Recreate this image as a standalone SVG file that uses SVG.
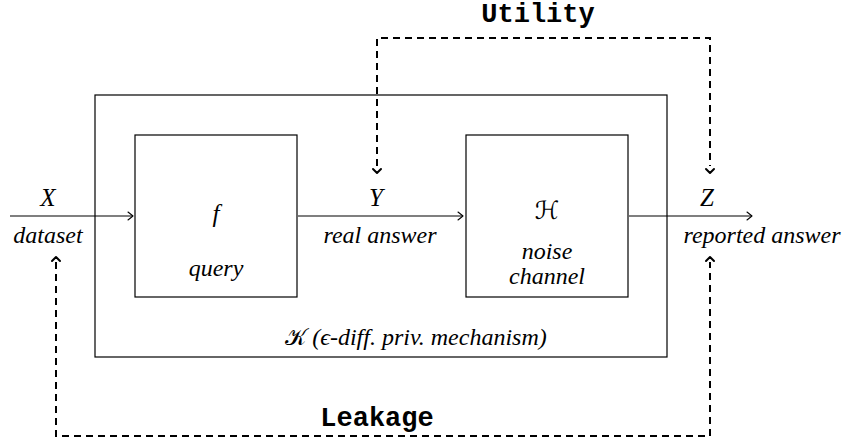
<svg xmlns="http://www.w3.org/2000/svg" width="849" height="445" viewBox="0 0 849 445">
<defs>
<style>
.box{fill:none;stroke:#000;stroke-width:1.2}
.ln{fill:none;stroke:#000;stroke-width:1.1}
.dash{fill:none;stroke:#000;stroke-width:2;stroke-dasharray:7,5}
.head{fill:none;stroke:#000;stroke-width:1.1;stroke-linecap:round;stroke-linejoin:round}
.dhead{fill:none;stroke:#000;stroke-width:2;stroke-linecap:round;stroke-linejoin:round}
.m{font-family:"Liberation Serif",serif;font-style:italic;font-size:25px;text-anchor:middle}
.t{font-family:"Liberation Serif",serif;font-style:italic;font-size:24px;text-anchor:middle}
.c{font-family:"Liberation Mono",monospace;font-weight:bold;font-size:27px;text-anchor:middle}
.cal{font-family:"DejaVu Sans",sans-serif;font-style:normal}
</style>
</defs>
<g id="mechanism">
<rect class="box" x="95" y="95" width="572" height="262"/>
<text class="t" x="416" y="345"><tspan class="cal" font-size="23">𝒦</tspan> (ϵ-diff. priv. mechanism)</text>
</g>
<g id="query">
<rect class="box" x="135" y="135" width="162" height="162"/>
<text class="m" x="216" y="222">f</text>
<text class="t" x="216" y="276">query</text>
</g>
<g id="noise">
<rect class="box" x="466" y="135" width="162" height="162"/>
<text class="m cal" x="547" y="219" font-size="21">ℋ</text>
<text class="t" x="547" y="259" font-size="22">noise</text>
<text class="t" x="547" y="284" font-size="22">channel</text>
</g>
<g id="labels">
<text class="m" x="48" y="206">X</text>
<text class="t" x="48" y="243">dataset</text>
<text class="m" x="376" y="206">Y</text>
<text class="t" x="380" y="243">real answer</text>
<text class="m" x="707" y="206">Z</text>
<text class="t" x="762" y="243">reported answer</text>
<text class="c" x="538" y="22">Utility</text>
<text class="c" x="377" y="426">Leakage</text>
</g>
<g id="connectors">
<line class="ln" x1="10" y1="216" x2="133" y2="216"/>
<path class="head" d="M128,212 L133,216 L128,220"/>
<line class="ln" x1="298" y1="216" x2="463" y2="216"/>
<path class="head" d="M458,212 L463,216 L458,220"/>
<line class="ln" x1="629" y1="216" x2="752" y2="216"/>
<path class="head" d="M747,212 L752,216 L747,220"/>
<path class="dash" d="M377,166 V38 H710 V166"/>
<path class="dhead" d="M373,169 L377,173 L381,169"/>
<path class="dhead" d="M706,169 L710,173 L714,169"/>
<path class="dash" d="M56,262 V436 H710 V262"/>
<path class="dhead" d="M52,261 L56,257 L60,261"/>
<path class="dhead" d="M706,261 L710,257 L714,261"/>
</g>
</svg>
